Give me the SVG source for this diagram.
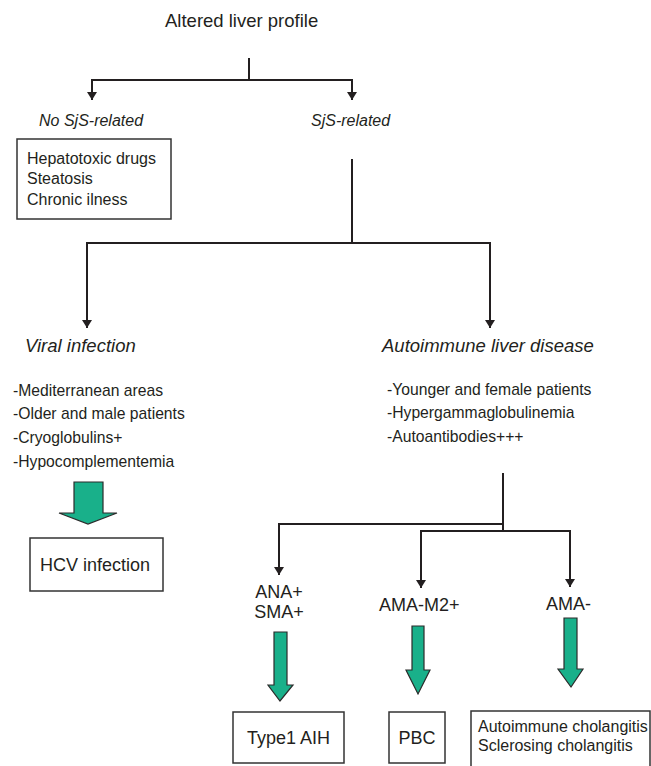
<svg xmlns="http://www.w3.org/2000/svg" width="651" height="766" viewBox="0 0 651 766">
<style>
  text { font-family: "Liberation Sans", Arial, sans-serif; fill: #231f20; }
  .it { font-style: italic; }
  .box { fill: #ffffff; stroke: #333333; stroke-width: 1.5; }
  .conn { fill: none; stroke: #231f20; stroke-width: 2; }
  .green { fill: #19b08a; stroke: #2b2b2b; stroke-width: 1.2; stroke-linejoin: miter; }
  .list { font-size: 15.7px; }
</style>
<defs>
  <marker id="ah" viewBox="0 0 8 10" refX="8" refY="5" markerWidth="8" markerHeight="10" markerUnits="userSpaceOnUse" orient="auto">
    <path d="M0,0 L8,5 L0,10 z" fill="#231f20"/>
  </marker>
</defs>
<rect width="651" height="766" fill="#ffffff"/>

<g id="connectors">
  <path class="conn" d="M249,58 V80"/>
  <path class="conn" d="M249,80 H92 V100" marker-end="url(#ah)"/>
  <path class="conn" d="M249,80 H352 V100" marker-end="url(#ah)"/>
  <path class="conn" d="M352,159 V243"/>
  <path class="conn" d="M352,243 H87 V328" marker-end="url(#ah)"/>
  <path class="conn" d="M352,243 H490 V328" marker-end="url(#ah)"/>
  <path class="conn" d="M503,473 V531"/>
  <path class="conn" d="M503,524 H279 V575" marker-end="url(#ah)"/>
  <path class="conn" d="M503,531 H421 V588" marker-end="url(#ah)"/>
  <path class="conn" d="M503,531 H570 V587" marker-end="url(#ah)"/>
  <polygon class="green" points="74,482 103,482 103,513 117,513 88,524 59,513 74,513"/>
  <polygon class="green" points="274,632 287,632 287,685 293,685 280,701 268,685 274,685"/>
  <polygon class="green" points="412,626 424,626 424,670 430,670 418,694 406,670 412,670"/>
  <polygon class="green" points="564,618 577,618 577,669 583,669 571,687 558,669 564,669"/>
</g>

<g id="title">
  <text x="165" y="27" font-size="18.5">Altered liver profile</text>
</g>
<g id="no-sjs">
  <text class="it" x="39" y="126" font-size="16">No SjS-related</text>
</g>
<g id="sjs">
  <text class="it" x="311" y="126" font-size="16">SjS-related</text>
</g>
<g id="causes">
  <rect class="box" x="17" y="139" width="154" height="80"/>
  <text x="27" y="164" font-size="16">Hepatotoxic drugs</text>
  <text x="27" y="184" font-size="16">Steatosis</text>
  <text x="27" y="205" font-size="16">Chronic ilness</text>
</g>
<g id="viral">
  <text class="it" x="25" y="352" font-size="18.5">Viral infection</text>
  <text class="list" x="13" y="396">-Mediterranean areas</text>
  <text class="list" x="13" y="419">-Older and male patients</text>
  <text class="list" x="13" y="443">-Cryoglobulins+</text>
  <text class="list" x="13" y="467">-Hypocomplementemia</text>
</g>
<g id="autoimmune">
  <text class="it" x="382" y="352" font-size="18.5">Autoimmune liver disease</text>
  <text class="list" x="387" y="395">-Younger and female patients</text>
  <text class="list" x="387" y="418">-Hypergammaglobulinemia</text>
  <text class="list" x="387" y="442">-Autoantibodies+++</text>
</g>
<g id="hcv">
  <rect class="box" x="30" y="538" width="133" height="53"/>
  <text x="40" y="571" font-size="18">HCV infection</text>
</g>
<g id="ana">
  <text x="279" y="598" font-size="18" text-anchor="middle">ANA+</text>
  <text x="279" y="618" font-size="18" text-anchor="middle">SMA+</text>
</g>
<g id="ama-m2">
  <text x="379" y="611" font-size="18">AMA-M2+</text>
</g>
<g id="ama-neg">
  <text x="546" y="610" font-size="18">AMA-</text>
</g>
<g id="aih">
  <rect class="box" x="233" y="712" width="111" height="51"/>
  <text x="288.5" y="744" font-size="18" text-anchor="middle">Type1 AIH</text>
</g>
<g id="pbc">
  <rect class="box" x="389" y="712" width="56" height="51"/>
  <text x="417" y="744" font-size="18" text-anchor="middle">PBC</text>
</g>
<g id="cholangitis">
  <rect class="box" x="471" y="711" width="179" height="62"/>
  <text x="478" y="732" font-size="16">Autoimmune cholangitis</text>
  <text x="478" y="751" font-size="16">Sclerosing cholangitis</text>
</g>
</svg>
